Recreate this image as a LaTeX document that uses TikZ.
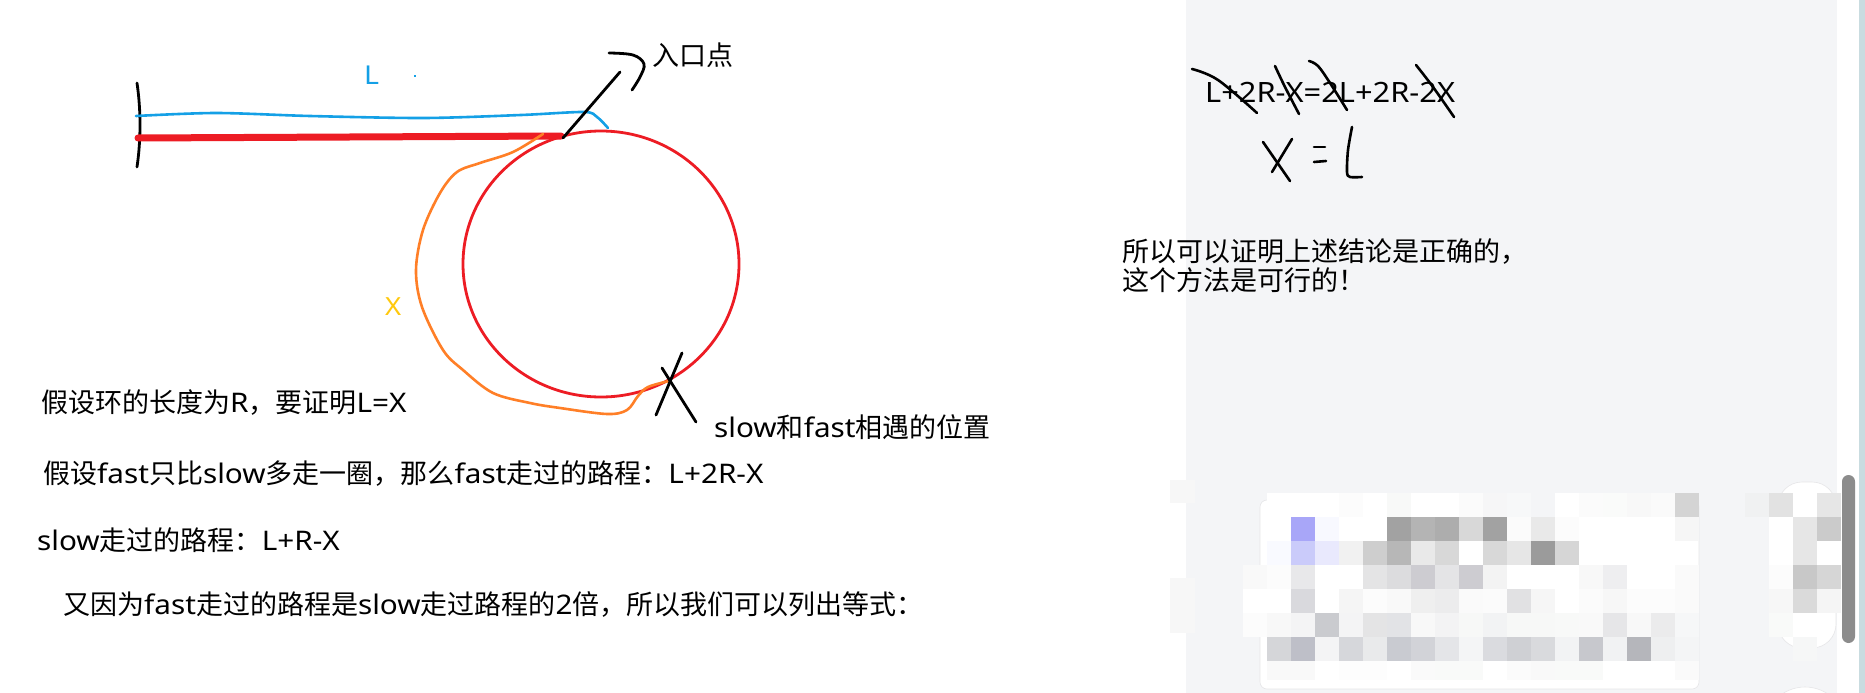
\documentclass[tikz,border=0pt]{standalone}
\usepackage{fontspec}
\setmainfont{Noto Sans CJK SC}
\newfontfamily\lat{Noto Sans}[FakeStretch=1.1]
\definecolor{bggray}{HTML}{F4F5F7}
\definecolor{stripc}{HTML}{C9DCE0}
\definecolor{redc}{HTML}{ED1C24}
\definecolor{bluec}{HTML}{14A0E6}
\definecolor{orangec}{HTML}{FF7F27}
\definecolor{yellowc}{HTML}{FFC90E}
\definecolor{scrollc}{HTML}{8C8C8C}
\definecolor{edgec}{HTML}{E6E6E8}
\newcommand{\la}[1]{{\lat #1}}
\begin{document}
\begin{tikzpicture}[x=1pt,y=-1pt,
  txt/.style={anchor=west, inner sep=0pt, font=\fontsize{27}{32}\selectfont, text=black},
  ink/.style={line width=2.6pt, line cap=round, line join=round},
]
\useasboundingbox (0,0) rectangle (1865,693);
% backgrounds
\fill[white] (0,0) rectangle (1865,693);
\fill[bggray] (1186,0) rectangle (1837,693);
\fill[stripc] (1859,0) rectangle (1865,693);
% left smudges
\fill[white!97!black] (1170,480) rectangle (1195,503);
\fill[white!97!black] (1170,578) rectangle (1195,633);
% card
\fill[white, draw=edgec, line width=0.6pt, rounded corners=7pt] (1260,500) rectangle (1699,689);
% mosaic cells
\foreach \c/\r/\h in {
 1/0/FFFFFF,2/0/FFFFFF,3/0/FFFFFF,4/0/FCFCFC,5/0/FFFFFF,6/0/F8F9F8,7/0/FFFFFF,8/0/FFFFFF,9/0/FBFBFB,10/0/F6F6F7,11/0/F7F8F9,12/0/F4F5F7,13/0/FFFFFF,14/0/FBFBFB,15/0/FAFBFA,16/0/F8F8F8,17/0/FAFAFA,18/0/D4D4D4,
 2/1/A8A6F8,3/1/F8F9FF,6/1/A2A2A2,7/1/B4B4B4,8/1/ADADAD,9/1/D8D8D8,10/1/A2A2A2,11/1/FBFBFB,12/1/E9E9E9,13/1/FCFCFC,18/1/F6F6F6,
 1/2/F9FAFF,2/2/CACBFA,3/2/E9E9FD,4/2/F1F1F1,5/2/CECECE,6/2/B7B7B7,7/2/E9E9E9,8/2/D8D8D8,10/2/D8D8D8,11/2/E6E6E6,12/2/9B9B9B,13/2/D6D6D6,
 0/3/F9F9F9,1/3/FCFCFC,2/3/E8E8EA,5/3/E4E4E5,6/3/DCDCDE,7/3/CDCCD1,8/3/E4E4E6,9/3/CDCCD1,10/3/F3F3F3,14/3/F8F8F8,15/3/EEEEF0,18/3/FAFAFA,
 0/4/FFFFFF,2/4/D9D9DD,4/4/F5F5F5,5/4/FCFCFC,6/4/F9F9F9,7/4/EFEFEF,8/4/ECECED,9/4/FAFAFA,10/4/FBFBFB,11/4/E1E1E3,12/4/F6F6F6,14/4/FBFBFB,15/4/F7F7F7,16/4/FCFCFC,17/4/FCFCFC,18/4/FAFAFA,
 0/5/FCFCFC,1/5/F8F8F8,2/5/F4F4F5,3/5/CACBCF,4/5/F4F4F5,5/5/E4E4E5,6/5/E2E3E6,7/5/F8F8F8,8/5/F3F3F4,9/5/F7F8F7,10/5/F2F3F4,11/5/F7F8F7,12/5/F7F8F7,13/5/F8F9F8,14/5/F9F9F9,15/5/E6E6E8,16/5/F8F8F8,17/5/EBEBEC,18/5/F6F7F8,
 1/6/D5D6D9,2/6/BEBFC8,3/6/F4F4F5,4/6/D6D7DB,5/6/E9EAEB,6/6/C9CBD1,7/6/D2D3D8,8/6/E4E5E8,9/6/F4F5F6,10/6/DADBDF,11/6/CFD0D4,12/6/D9DADD,13/6/F2F3F4,14/6/C7C8CD,15/6/F1F2F3,16/6/B5B6BB,17/6/EEEFF0,18/6/F4F5F6,
 1/7/F9F9F9,2/7/F9F9F9,4/7/FDFDFD,5/7/FDFDFD,7/7/FAFAFA,8/7/F9FAF9,9/7/F9FAF9,11/7/FBFBFB,12/7/F9F9F9,13/7/F9FAF9,14/7/F9FAF9,18/7/FAFAFA}
 {\definecolor{mc}{HTML}{\h}\fill[mc] ({1243+24*\c},{493+24*\r}) rectangle ++(24,{\r==7 ? 19 : 24});}
% right blurred icon
\fill[white, draw=edgec, line width=0.6pt, rounded corners=24pt] (1778,482) rectangle (1836,648);
\foreach \c/\r/\h in {
 0/0/F0F1F2,1/0/E2E2E2,2/0/FFFFFF,3/0/E6E6E6,
 1/1/FFFFFF,2/1/E6E6E6,3/1/CBCBCB,
 1/2/FFFFFF,2/2/E6E6E6,3/2/FFFFFF,
 1/3/FCFCFC,2/3/C8C8C8,3/3/D6D6D6,
 1/4/F7F7F7,2/4/DADADA,3/4/F5F5F5,
 1/5/F9FAF9,2/5/FFFFFF,
 2/6/F6F7F7}
 {\definecolor{mc}{HTML}{\h}\fill[mc] ({1745+24*\c},{493+24*\r}) rectangle ++(24,24);}
\fill[white, draw=edgec, line width=0.6pt] (1805,728) circle (41);
% scrollbar
\fill[scrollc, rounded corners=6.5pt] (1842,475) rectangle (1855,643);

% ---- left drawing ----
\draw[ink, line width=2.8pt] (137,83) .. controls (141,110) and (141,140) .. (137,167);
\draw[bluec, ink, line width=2.6pt] plot[smooth, tension=0.5] coordinates {(136,116) (216,113) (310,116) (424,118) (521,115) (584,112) (597,117) (608,128)};
\draw[redc, line width=7pt, line cap=round] (138,138) -- (561,136);
\draw[redc, line width=2.8pt] (601,264) ellipse [x radius=138, y radius=133];
\draw[orangec, ink] plot[smooth, tension=0.55] coordinates {(543,134) (513,152) (480,163) (457,172) (440,193) (423,230) (416,270) (422,307) (443,350) (463,370) (493,393) (530,403) (560,408) (607,414) (627,410) (638,396) (648,387) (669,381)};
\draw[ink, line width=2.8pt] (563,138) -- (620,72);
\draw[ink, line width=2.8pt] plot[smooth, tension=0.6] coordinates {(609,53) (633,55) (644,64) (640,77) (632,90)};
\draw[ink, line width=2.8pt] (682,353) -- (656,415);
\draw[ink, line width=2.8pt] (662,368) -- (696,422);
\draw[bluec, line width=1.2pt] (414,76) -- (416,76);

\node[txt, text=bluec, font=\fontsize{26}{30}\lat] (lL) at (364,75) {L};
\node[txt, text=yellowc, font=\fontsize{25}{30}\lat] (lX) at (385,307) {X};
\node[txt] (entry) at (652,55) {入口点};
\node[txt] (meet) at (714,427) {\la{slow}和\la{fast}相遇的位置};
\node[txt] (t1) at (41,403) {假设环的长度为\la{R}，要证明\la{L=X}};
\node[txt] (t2) at (43,474) {假设\la{fast}只比\la{slow}多走一圈，那么\la{fast}走过的路程：\la{L+2R-X}};
\node[txt] (t3) at (37,540) {\la{slow}走过的路程：\la{L+R-X}};
\node[txt] (t4) at (63,604) {又因为\la{fast}走过的路程是\la{slow}走过路程的\la{2}倍，所以我们可以列出等式：};

% ---- right side ----
\node[txt, font=\fontsize{28}{34}\lat] (eq) at (1205,92) {L+2R-X=2L+2R-2X};
\node[txt] (c1) at (1122,252) {所以可以证明上述结论是正确的，};
\node[txt] (c2) at (1122,280) {这个方法是可行的！};
\draw[ink] plot[smooth, tension=0.6] coordinates {(1192,69) (1218,80) (1257,113)};
\draw[ink] plot[smooth, tension=0.6] coordinates {(1275,66) (1285,87) (1299,114)};
\draw[ink] plot[smooth, tension=0.6] coordinates {(1309,61) (1318,66) (1330,83) (1347,110)};
\draw[ink] plot[smooth, tension=0.6] coordinates {(1416,65) (1433,87) (1454,117)};
\draw[ink] (1263,142) -- (1290,181);
\draw[ink] (1292,139) -- (1272,172);
\draw[ink] (1314,147) -- (1325,147);
\draw[ink] (1314,162) -- (1326,161);
\draw[ink] plot[smooth, tension=0.5] coordinates {(1352,127) (1348,150) (1347,172) (1350,177) (1362,177)};
\end{tikzpicture}
\end{document}
